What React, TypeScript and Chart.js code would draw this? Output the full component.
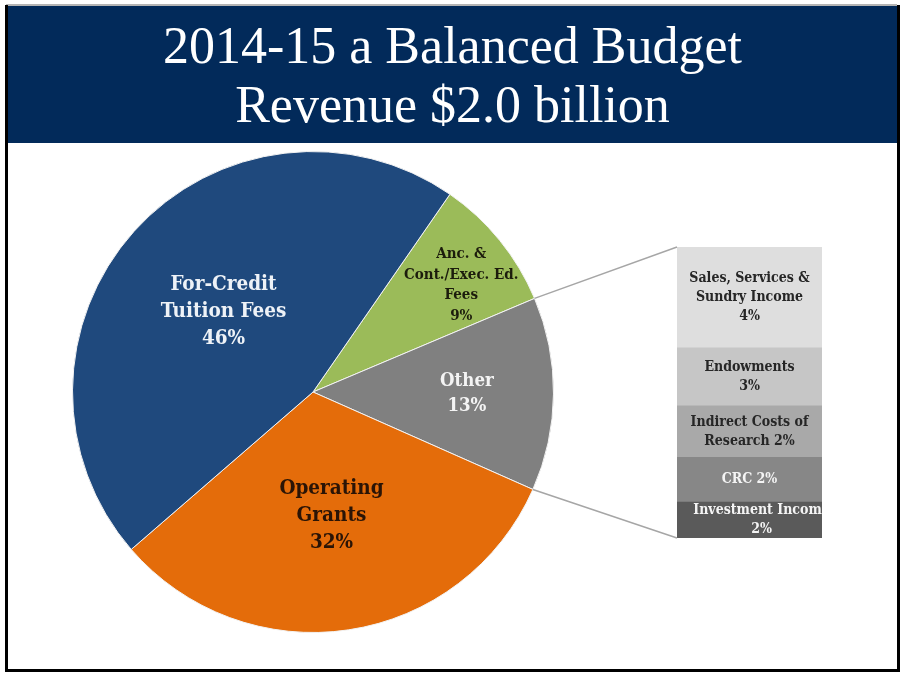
import React, { useEffect, useRef } from "react";
import { Chart, registerables } from "chart.js";

Chart.register(...registerables);

// ---------- data ----------
const titleLines = ["2014-15 a Balanced Budget", "Revenue $2.0 billion"];

const pieCategories = [
  "Anc. & Cont./Exec. Ed. Fees",
  "Other",
  "Operating Grants",
  "For-Credit Tuition Fees",
];
const pieValues = [9, 13, 32, 46];
const pieLabelLines = [
  ["Anc. &", "Cont./Exec. Ed.", "Fees", "9%"],
  ["Other", "13%"],
  ["Operating", "Grants", "32%"],
  ["For-Credit", "Tuition Fees", "46%"],
];
const pieStartAngle = 34.7; // degrees clockwise from top

// "Other" breakdown, top to bottom
const barCategories = [
  "Sales, Services & Sundry Income",
  "Endowments",
  "Indirect Costs of Research",
  "CRC",
  "Investment Income",
];
const barValues = [4.5, 2.6, 2.3, 2.0, 1.6];
const barLabelLines = [
  ["Sales, Services &", "Sundry Income", "4%"],
  ["Endowments", "3%"],
  ["Indirect Costs of", "Research 2%"],
  ["CRC 2%"],
  ["Investment Income", "2%"],
];

// ---------- styles ----------
const FONT_BOLD = '"DejaVu Serif Condensed", "DejaVu Serif", serif';
const pieColors = ["#9bbb59", "#808080", "#e46c0a", "#1f497d"];
const pieTextColors = ["#1c1c0c", "#f4f4f4", "#2a1406", "#eef2f7"];
const pieFontSizes = [15, 18.5, 20.5, 20.5];
const pieLineHeights = [20.5, 25, 27, 27];
const pieLabelRadius = [0.76, 0.64, 0.52, 0.5];
const pieLabelAngleShift = [3.3, 0, 0, 0];

const barColors = ["#dedede", "#c6c6c6", "#a9a9a9", "#878787", "#5a5a5a"];
const barTextColors = ["#262626", "#262626", "#262626", "#f4f4f4", "#f4f4f4"];
const barLabelDx = [0, 0, 0, 0, 12];

const PIE_BOX = { left: 68, top: 147, size: 490 };
const BAR_BOX = { left: 677, top: 247, width: 145, height: 291 };

const pieLabelPlugin = {
  id: "pieLabels",
  afterDatasetsDraw(chart: any) {
    const ctx = chart.ctx;
    const meta = chart.getDatasetMeta(0);
    meta.data.forEach((arc: any, i: number) => {
      const p = arc.getProps(["x", "y", "startAngle", "endAngle", "outerRadius"], true);
      const mid = (p.startAngle + p.endAngle) / 2 + (pieLabelAngleShift[i] * Math.PI) / 180;
      const r = p.outerRadius * pieLabelRadius[i];
      const cx = p.x + r * Math.cos(mid);
      const cy = p.y + r * Math.sin(mid);
      const lines = pieLabelLines[i];
      ctx.save();
      ctx.font = `bold ${pieFontSizes[i]}px ${FONT_BOLD}`;
      ctx.fillStyle = pieTextColors[i];
      ctx.textAlign = "center";
      ctx.textBaseline = "middle";
      lines.forEach((t, j) => {
        ctx.fillText(t, cx, cy + (j - (lines.length - 1) / 2) * pieLineHeights[i]);
      });
      ctx.restore();
    });
  },
};

const barLabelPlugin = {
  id: "barLabels",
  afterDatasetsDraw(chart: any) {
    const ctx = chart.ctx;
    chart.data.datasets.forEach((ds: any, di: number) => {
      const idx = ds.segIndex;
      const bar: any = chart.getDatasetMeta(di).data[0];
      const p = bar.getProps(["x", "y", "base", "width"], true);
      const left = p.x - p.width / 2;
      const top = Math.min(p.y, p.base);
      const h = Math.abs(p.base - p.y);
      const lines = barLabelLines[idx];
      const lh = 19;
      ctx.save();
      ctx.beginPath();
      ctx.rect(left, top, p.width, h);
      ctx.clip();
      ctx.font = `bold 14px ${FONT_BOLD}`;
      ctx.fillStyle = barTextColors[idx];
      ctx.textAlign = "center";
      ctx.textBaseline = "middle";
      const cy = top + h / 2;
      lines.forEach((t, j) => {
        ctx.fillText(t, p.x + barLabelDx[idx], cy + (j - (lines.length - 1) / 2) * lh);
      });
      ctx.restore();
    });
  },
};

export default function App() {
  const pieRef = useRef<HTMLCanvasElement>(null);
  const barRef = useRef<HTMLCanvasElement>(null);
  const lineRef = useRef<HTMLCanvasElement>(null);
  const rootRef = useRef<HTMLDivElement>(null);

  useEffect(() => {
    const pie = new Chart(pieRef.current!, {
      type: "pie",
      data: {
        labels: pieCategories,
        datasets: [
          {
            data: pieValues,
            backgroundColor: pieColors,
            borderColor: "#f2f2f2",
            borderWidth: 1,
            hoverOffset: 0,
          },
        ],
      },
      options: {
        animation: false,
        responsive: true,
        maintainAspectRatio: false,
        events: [],
        rotation: pieStartAngle,
        layout: { padding: 4 },
        plugins: { legend: { display: false }, tooltip: { enabled: false } },
      },
      plugins: [pieLabelPlugin],
    });

    const total = barValues.reduce((a, b) => a + b, 0);
    const order = barValues.map((_, i) => i).reverse(); // bottom-up stacking
    const bar = new Chart(barRef.current!, {
      type: "bar",
      data: {
        labels: ["Other"],
        datasets: order.map((i) => ({
          label: barCategories[i],
          data: [barValues[i]],
          backgroundColor: barColors[i],
          borderWidth: 0,
          categoryPercentage: 1,
          barPercentage: 1,
          segIndex: i,
        })) as any,
      },
      options: {
        animation: false,
        responsive: true,
        maintainAspectRatio: false,
        events: [],
        layout: { padding: 0 },
        scales: {
          x: { stacked: true, display: false },
          y: { stacked: true, display: false, min: 0, max: total },
        },
        plugins: { legend: { display: false }, tooltip: { enabled: false } },
      },
      plugins: [barLabelPlugin],
    });

    // connector lines between the "Other" slice and the stacked bar
    const lc = lineRef.current!;
    const lctx = lc.getContext("2d")!;
    const rootRect = rootRef.current!.getBoundingClientRect();
    const pr = pieRef.current!.getBoundingClientRect();
    const br = barRef.current!.getBoundingClientRect();
    const otherArc: any = pie.getDatasetMeta(0).data[1];
    const a = otherArc.getProps(["x", "y", "startAngle", "endAngle", "outerRadius"], true);
    const px = pr.left - rootRect.left;
    const py = pr.top - rootRect.top;
    const p1 = { x: px + a.x + a.outerRadius * Math.cos(a.startAngle), y: py + a.y + a.outerRadius * Math.sin(a.startAngle) };
    const p2 = { x: px + a.x + a.outerRadius * Math.cos(a.endAngle), y: py + a.y + a.outerRadius * Math.sin(a.endAngle) };
    const bx = br.left - rootRect.left;
    const by = br.top - rootRect.top;
    const topBar: any = bar.getDatasetMeta(bar.data.datasets.length - 1).data[0].getProps(["x", "y", "width"], true);
    const botBar: any = bar.getDatasetMeta(0).data[0].getProps(["x", "base", "width"], true);
    const q1 = { x: bx + topBar.x - topBar.width / 2, y: by + topBar.y };
    const q2 = { x: bx + botBar.x - botBar.width / 2, y: by + botBar.base };
    lctx.clearRect(0, 0, lc.width, lc.height);
    lctx.strokeStyle = "#a6a6a6";
    lctx.lineWidth = 1.5;
    lctx.beginPath();
    lctx.moveTo(p1.x, p1.y);
    lctx.lineTo(q1.x, q1.y);
    lctx.moveTo(p2.x, p2.y);
    lctx.lineTo(q2.x, q2.y);
    lctx.stroke();

    return () => {
      pie.destroy();
      bar.destroy();
    };
  }, []);

  return (
    <div
      ref={rootRef}
      style={{
        position: "absolute",
        left: 0,
        top: 0,
        width: 900,
        height: 673,
        background: "#ffffff",
        overflow: "hidden",
      }}
    >
      {/* frame */}
      <div style={{ position: "absolute", left: 6, top: 4, width: 891, height: 2, background: "#b4b4b4" }} />
      <div style={{ position: "absolute", left: 5, top: 5, width: 3, height: 667, background: "#000" }} />
      <div style={{ position: "absolute", left: 897, top: 5, width: 3, height: 667, background: "#000" }} />
      <div style={{ position: "absolute", left: 5, top: 669, width: 895, height: 3, background: "#000" }} />
      {/* title banner */}
      <div
        style={{
          position: "absolute",
          left: 8,
          top: 6,
          width: 889,
          height: 137,
          background: "#022a5a",
        }}
      />
      <div
        style={{
          position: "absolute",
          left: 8,
          top: 16,
          width: 889,
          textAlign: "center",
          color: "#ffffff",
          fontFamily: '"Liberation Serif", serif',
          fontSize: 52,
          lineHeight: "59px",
        }}
      >
        {titleLines.map((t) => (
          <div key={t}>{t}</div>
        ))}
      </div>
      {/* pie */}
      <div
        style={{
          position: "absolute",
          left: PIE_BOX.left,
          top: PIE_BOX.top,
          width: PIE_BOX.size,
          height: PIE_BOX.size,
        }}
      >
        <canvas ref={pieRef} />
      </div>
      {/* stacked bar */}
      <div
        style={{
          position: "absolute",
          left: BAR_BOX.left,
          top: BAR_BOX.top,
          width: BAR_BOX.width,
          height: BAR_BOX.height,
        }}
      >
        <canvas ref={barRef} />
      </div>
      {/* connector lines */}
      <canvas
        ref={lineRef}
        width={900}
        height={673}
        style={{ position: "absolute", left: 0, top: 0, width: 900, height: 673, pointerEvents: "none" }}
      />
    </div>
  );
}
